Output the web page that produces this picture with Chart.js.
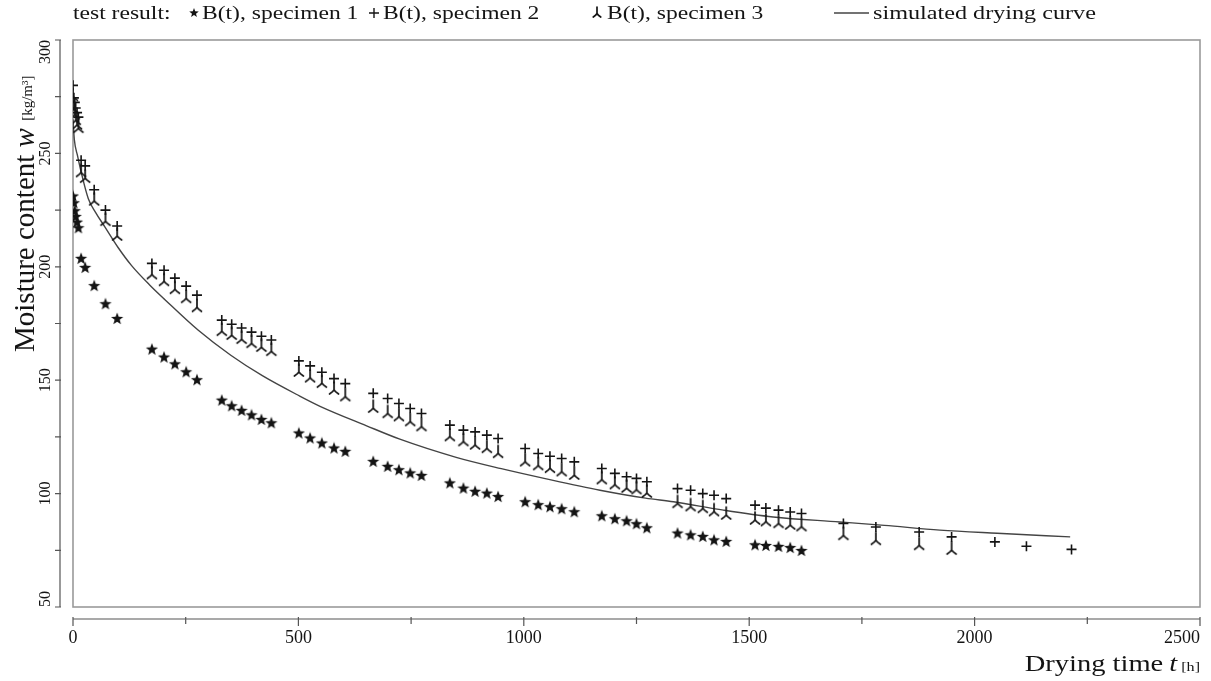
<!DOCTYPE html>
<html>
<head>
<meta charset="utf-8">
<script src="https://cdn.jsdelivr.net/npm/chart.js@4.4.1/dist/chart.umd.min.js"></script>
<style>
  html, body { margin: 0; padding: 0; background: #fff; }
  #wrap { position: relative; width: 1211px; height: 681px; }
</style>
</head>
<body>
<div id="wrap"><canvas id="dryingChart" width="1211" height="681"></canvas></div>
<script>
// time of each weighing [h]
const dryingTime = [
  0, 2, 4, 6, 9, 12,
  18, 27, 47, 72, 98,
  175, 202, 226, 251, 275,
  330, 352, 374, 396, 418, 440,
  501, 526, 552, 579, 604,
  666, 698, 723, 748, 773,
  836, 866, 892, 918, 943,
  1003, 1032, 1058, 1084, 1112,
  1173, 1202, 1228, 1250, 1273,
  1341, 1370, 1397, 1422, 1449,
  1513, 1537, 1565, 1591, 1616,
  1709, 1781, 1877, 1949, 2045, 2115, 2215
];
// moisture content [kg/m3], null = no reading
const wSpecimen1 = [
  231, 228, 224.5, 222, 219.5, 217,
  203.5, 199.5, 191.5, 183.5, 177,
  163.5, 160, 157, 153.5, 150,
  141, 138.5, 136.5, 134.5, 132.5, 131,
  126.5, 124.3, 122.1, 119.9, 118.4,
  114, 111.8, 110.3, 108.9, 107.8,
  104.5, 102.2, 100.8, 100, 98.5,
  96.2, 94.9, 94, 93.1, 91.8,
  90, 88.7, 87.8, 86.5, 84.7,
  82.4, 81.6, 80.9, 79.4, 78.7,
  77.2, 76.9, 76.5, 76, 74.7,
  null, null, null, null, null, null, null
];
const wSpecimen2 = [
  280, 274.5, 272.5, 270, 268, 266,
  247, 244.5, 234, 225, 218,
  201.5, 198.5, 195, 191.5, 187.5,
  176.5, 174.7, 173, 171.2, 169.4, 167.7,
  158.5, 156.3, 153.5, 150.7, 148.5,
  144.2, 141.9, 139.7, 137.5, 135.3,
  130.2, 128, 127.2, 125.8, 124.3,
  119.9, 117.7, 116.5, 115.5, 114,
  111.1, 108.9, 107.4, 106.7, 105.2,
  102.2, 101.5, 100, 99.3, 97.8,
  94.9, 93.6, 92.7, 91.9, 91.2,
  86.8, 85.3, 83.1, 80.9, 78.7, 76.8, 75.4
];
const wSpecimen3 = [
  276, 270.5, 268, 265.5, 263.5, 262,
  242.5, 240, 230, 221, 214.5,
  197.5, 194.5, 191, 187, 183,
  172.5, 170.8, 169, 167.2, 165.5, 163.7,
  154.5, 152, 149.6, 146.6, 143.7,
  138.6, 136.3, 134.9, 132.7, 130.5,
  126.1, 123.9, 122.4, 120.9, 118.7,
  115, 113.3, 112.1, 110.6, 109.1,
  107.1, 104.9, 103.4, 102.7, 101.2,
  96.6, 95.2, 94.4, 93, 91.5,
  89.3, 88.6, 87.8, 87.1, 86.4,
  82.5, 80.3, 78.1, 76, null, null, null
];
// simulated drying curve
const simTime = [0, 3, 10, 19, 34, 50, 71, 100, 130, 170, 204, 278, 350, 420, 503, 548,
  650, 725, 850, 950, 1050, 1169, 1270, 1332, 1443, 1553, 1701, 1800, 1923, 2050, 2212];
const simW = [265, 256, 249, 241, 230, 224, 217.5, 208.5, 200.5, 192, 185.5, 172, 161, 152, 143, 138.5,
  130, 124, 116, 111, 106.5, 101.5, 98, 96.4, 92.7, 89.7, 87.5, 86, 83.9, 82.5, 80.9];

const xTicks = [0, 250, 500, 750, 1000, 1250, 1500, 1750, 2000, 2250, 2500];
const yTicks = [50, 75, 100, 125, 150, 175, 200, 225, 250, 275, 300];

const SERIF = '"Liberation Serif", "Times New Roman", serif';
const INK = '#141414';
const STRETCH = 1.24; // text in this figure is set a bit wide

function toPoints(values) {
  const pts = [];
  values.forEach((v, i) => { if (v !== null) pts.push({ x: dryingTime[i], y: v }); });
  return pts;
}

// filled five-pointed star
function makeStar(size, outer, inner) {
  const c = document.createElement('canvas');
  c.width = c.height = size;
  const g = c.getContext('2d');
  g.fillStyle = INK;
  g.beginPath();
  for (let k = 0; k < 10; k++) {
    const r = k % 2 ? inner : outer;
    const a = -Math.PI / 2 + k * Math.PI / 5;
    const px = size / 2 + r * Math.cos(a), py = size / 2 + r * Math.sin(a);
    k ? g.lineTo(px, py) : g.moveTo(px, py);
  }
  g.closePath();
  g.fill();
  return c;
}

// upturned Y: stem up, two legs down
function makeTripod(size, r) {
  const c = document.createElement('canvas');
  c.width = c.height = size;
  const g = c.getContext('2d');
  const m = size / 2;
  g.strokeStyle = INK;
  g.lineWidth = 1.7;
  g.lineCap = 'round';
  g.beginPath();
  g.moveTo(m, m - r);
  g.lineTo(m, m + r * 0.3);
  g.moveTo(m - r * 0.75, m + r);
  g.quadraticCurveTo(m - r * 0.15, m + r * 0.6, m, m + r * 0.3);
  g.quadraticCurveTo(m + r * 0.15, m + r * 0.6, m + r * 0.75, m + r);
  g.stroke();
  return c;
}

const starImg = makeStar(14, 6.4, 2.7);
const tripodImg = makeTripod(16, 6);
const starSmall = makeStar(12, 5, 2.1);
const tripodSmall = makeTripod(14, 5);

function drawStretched(ctx, str, x, y, font, align) {
  ctx.save();
  ctx.font = font;
  const w = ctx.measureText(str).width * STRETCH;
  const x0 = align === 'right' ? x - w : x;
  ctx.translate(x0, y);
  ctx.scale(STRETCH, 1);
  ctx.fillText(str, 0, 0);
  ctx.restore();
  return w;
}

function textWidth(ctx, str, font) {
  ctx.save();
  ctx.font = font;
  const w = ctx.measureText(str).width;
  ctx.restore();
  return w;
}

const frameAndLabels = {
  id: 'frameAndLabels',
  beforeDatasetsDraw(chart) {
    const { ctx, chartArea: a } = chart;
    ctx.save();
    ctx.strokeStyle = '#9a9a9a';
    ctx.lineWidth = 1.6;
    ctx.strokeRect(a.left, a.top, a.right - a.left, a.bottom - a.top);
    ctx.restore();
  },
  afterDraw(chart) {
    const { ctx, chartArea: a } = chart;
    const xs = chart.scales.x, ys = chart.scales.y;
    ctx.save();
    ctx.strokeStyle = '#555';
    ctx.lineWidth = 1.2;

    // detached x axis with ticks
    const axisY = a.bottom + 12;
    ctx.beginPath();
    ctx.moveTo(xs.left, axisY);
    ctx.lineTo(xs.right, axisY);
    xs.ticks.forEach(t => {
      const px = xs.getPixelForValue(t.value);
      const len = t.value % 500 === 0 ? 7 : 5;
      ctx.moveTo(px, axisY - 2);
      ctx.lineTo(px, axisY + len);
    });
    ctx.stroke();

    // detached y axis with ticks
    const axisX = a.left - 13;
    ctx.beginPath();
    ctx.moveTo(axisX, ys.top);
    ctx.lineTo(axisX, ys.bottom);
    ys.ticks.forEach(t => {
      const py = ys.getPixelForValue(t.value);
      ctx.moveTo(axisX + 1, py);
      ctx.lineTo(axisX - 5, py);
    });
    ctx.stroke();

    ctx.fillStyle = INK;
    ctx.textBaseline = 'alphabetic';

    // x title, right aligned to the axis end
    const fBig = '23px ' + SERIF, fIt = 'italic 23px ' + SERIF, fUnit = '13px ' + SERIF;
    let xr = xs.right;
    xr -= drawStretched(ctx, '[h]', xr, 671, fUnit, 'right') + 4;
    xr -= drawStretched(ctx, 't', xr, 671, fIt, 'right') + 6;
    drawStretched(ctx, 'Drying time', xr, 671, fBig, 'right');

    // y title, rotated, reading upwards
    const fY = '29px ' + SERIF, fYit = 'italic 29px ' + SERIF, fYunit = '15px ' + SERIF;
    ctx.save();
    ctx.translate(34, 352);
    ctx.rotate(-Math.PI / 2);
    ctx.font = fY;
    ctx.fillText('Moisture content', 0, 0);
    let yy = textWidth(ctx, 'Moisture content ', fY);
    ctx.font = fYit;
    ctx.fillText('w', yy, 0);
    yy += textWidth(ctx, 'w ', fYit);
    ctx.font = fYunit;
    ctx.fillText('[kg/m\u00B3]', yy, -2);
    ctx.restore();

    // legend row
    const fLeg = '19px ' + SERIF;
    const base = 19;
    drawStretched(ctx, 'test result:', 73, base, fLeg);
    ctx.drawImage(starSmall, 194 - 6, 13 - 6);
    drawStretched(ctx, 'B(t), specimen 1', 202, base, fLeg);
    ctx.beginPath();
    ctx.strokeStyle = INK;
    ctx.lineWidth = 1.4;
    ctx.moveTo(369, 13); ctx.lineTo(379, 13);
    ctx.moveTo(374, 8); ctx.lineTo(374, 18);
    ctx.stroke();
    drawStretched(ctx, 'B(t), specimen 2', 383, base, fLeg);
    ctx.drawImage(tripodSmall, 597 - 7, 12 - 7);
    drawStretched(ctx, 'B(t), specimen 3', 607, base, fLeg);
    ctx.beginPath();
    ctx.strokeStyle = '#444';
    ctx.lineWidth = 1.4;
    ctx.moveTo(834, 13); ctx.lineTo(869, 13);
    ctx.stroke();
    drawStretched(ctx, 'simulated drying curve', 873, base, '19.5px ' + SERIF);
    ctx.restore();
  }
};

const ctx = document.getElementById('dryingChart').getContext('2d');
new Chart(ctx, {
  type: 'scatter',
  data: {
    datasets: [
      {
        label: 'simulated drying curve',
        data: simTime.map((t, i) => ({ x: t, y: simW[i] })),
        showLine: true,
        borderColor: '#444',
        borderWidth: 1.4,
        pointRadius: 0,
        cubicInterpolationMode: 'monotone',
        order: 4
      },
      {
        label: 'B(t), specimen 1',
        data: toPoints(wSpecimen1),
        pointStyle: starImg,
        pointRadius: 6,
        order: 1
      },
      {
        label: 'B(t), specimen 2',
        data: toPoints(wSpecimen2),
        pointStyle: 'cross',
        pointRadius: 5,
        borderColor: INK,
        borderWidth: 1.6,
        order: 2
      },
      {
        label: 'B(t), specimen 3',
        data: toPoints(wSpecimen3),
        pointStyle: tripodImg,
        pointRadius: 6,
        order: 3
      }
    ]
  },
  options: {
    responsive: false,
    devicePixelRatio: 1,
    animation: false,
    layout: { padding: { left: 0, top: 40, right: 11, bottom: 0 } },
    plugins: { legend: { display: false }, tooltip: { enabled: false } },
    scales: {
      x: {
        type: 'linear',
        min: 0,
        max: 2500,
        afterBuildTicks: s => { s.ticks = xTicks.map(v => ({ value: v })); },
        afterFit: s => { s.height = 74; s.paddingLeft = 0; s.paddingRight = 0; },
        grid: { display: false, drawTicks: false },
        border: { display: false },
        ticks: {
          autoSkip: false,
          maxRotation: 0,
          padding: 20,
          color: INK,
          font: { family: SERIF, size: 18 },
          // last label sits left of its tick
          callback: v => v === 2500 ? '2500\u2007\u2007\u2007\u2007' : (v % 500 === 0 ? String(v) : '')
        }
      },
      y: {
        type: 'linear',
        min: 50,
        max: 300,
        afterBuildTicks: s => { s.ticks = yTicks.map(v => ({ value: v })); },
        afterFit: s => { s.width = 73; s.paddingTop = 0; s.paddingBottom = 0; },
        grid: { display: false, drawTicks: false },
        border: { display: false },
        ticks: {
          autoSkip: false,
          minRotation: 90,
          maxRotation: 90,
          crossAlign: 'center',
          padding: 3,
          color: INK,
          font: { family: SERIF, size: 16 },
          // end labels are kept inside the axis span
          callback: v => v === 300 ? '300\u2007\u2007\u2007' : v === 50 ? '\u2007\u200750' : (v % 50 === 0 ? String(v) : '')
        }
      }
    }
  },
  plugins: [frameAndLabels]
});
</script>
</body>
</html>
